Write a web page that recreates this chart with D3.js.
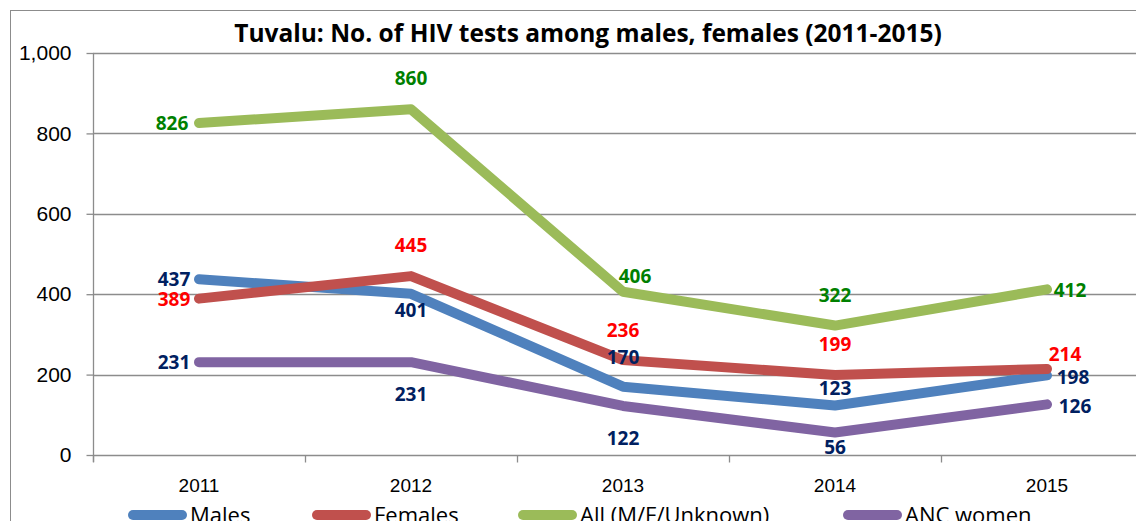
<!DOCTYPE html>
<html>
<head>
<meta charset="utf-8">
<script src="https://cdn.jsdelivr.net/npm/d3@7"></script>
<style>
  html, body { margin: 0; padding: 0; background: #fff; overflow: hidden; }
  svg { display: block; font-family: "Open Sans", "Noto Sans", sans-serif; }
</style>
</head>
<body>
<div id="chart"></div>
<script>
const years = ['2011', '2012', '2013', '2014', '2015'];
const males = [437, 401, 170, 123, 198];
const females = [389, 445, 236, 199, 214];
const allTests = [826, 860, 406, 322, 412];
const ancWomen = [231, 231, 122, 56, 126];
const yTicks = [0, 200, 400, 600, 800, 1000];
const seriesNames = ['Males', 'Females', 'All (M/F/Unknown)', 'ANC women'];

// label offsets from each point (label centre, px)
const labelOffsets = {
  'Males': [[-25, 0], [0, 16], [0, -30], [0, -18], [26, 2]],
  'Females': [[-25, 0], [0, -31], [0, -30], [0, -31], [18, -15]],
  'All (M/F/Unknown)': [[-27, 0], [0, -31], [12, -16], [0, -31], [23, 1]],
  'ANC women': [[-25, 0], [0, 32], [0, 32], [0, 15], [28, 2]]
};

const series = [
  { name: seriesNames[0], values: males, color: '#4F81BD', labelColor: '#002060' },
  { name: seriesNames[1], values: females, color: '#C0504D', labelColor: '#FF0000' },
  { name: seriesNames[2], values: allTests, color: '#9BBB59', labelColor: '#008000' },
  { name: seriesNames[3], values: ancWomen, color: '#8064A2', labelColor: '#002060' }
];

const width = 1136, height = 521;
const plot = { left: 93, right: 1153, top: 53, bottom: 455 };

const svg = d3.select('#chart').append('svg')
  .attr('width', width)
  .attr('height', height);

// outer chart border
svg.append('rect')
  .attr('x', 10.5).attr('y', 10.5)
  .attr('width', 1200).attr('height', 600)
  .attr('fill', 'none')
  .attr('stroke', '#8c8c8c')
  .attr('stroke-width', 1);

const x = d3.scaleBand().domain(years).range([plot.left, plot.right]).padding(0);
const xc = d => x(d) + x.bandwidth() / 2;
const y = d3.scaleLinear().domain([0, 1000]).range([plot.bottom, plot.top]);

// gridlines
svg.append('g')
  .selectAll('line')
  .data(yTicks.filter(d => d > 0))
  .join('line')
  .attr('x1', plot.left).attr('x2', width)
  .attr('y1', d => Math.round(y(d)) + 0.5).attr('y2', d => Math.round(y(d)) + 0.5)
  .attr('stroke', '#8c8c8c')
  .attr('stroke-width', 1.3);

// y axis
const yAxis = svg.append('g')
  .attr('transform', `translate(${plot.left + 0.5},0)`)
  .call(d3.axisLeft(y).tickValues(yTicks).tickSize(7).tickPadding(15).tickFormat(d3.format(',')));
yAxis.select('path').attr('d', `M0,${plot.top}V${plot.bottom + 7}`);
yAxis.selectAll('path, line').attr('stroke', '#8c8c8c').attr('stroke-width', 1.3);
yAxis.selectAll('text')
  .attr('font-size', 21)
  .attr('fill', '#000');

// x axis
const xAxis = svg.append('g')
  .attr('transform', `translate(0,${Math.round(plot.bottom) + 0.5})`)
  .call(d3.axisBottom(x).tickSize(0).tickPadding(23));
xAxis.select('path').attr('d', `M${plot.left},0H${width}`);
xAxis.select('path').attr('stroke', '#8c8c8c').attr('stroke-width', 1.3);
xAxis.selectAll('text')
  .attr('font-size', 19)
  .attr('fill', '#000');
xAxis.append('g')
  .selectAll('line')
  .data(years)
  .join('line')
  .attr('x1', d => x(d) + 0.5).attr('x2', d => x(d) + 0.5)
  .attr('y1', 0).attr('y2', 7)
  .attr('stroke', '#8c8c8c')
  .attr('stroke-width', 1.3);

// lines
const line = d3.line()
  .x((d, i) => xc(years[i]))
  .y(d => y(d));

svg.append('g')
  .selectAll('path')
  .data(series)
  .join('path')
  .attr('d', d => line(d.values))
  .attr('fill', 'none')
  .attr('stroke', d => d.color)
  .attr('stroke-width', 10)
  .attr('stroke-linecap', 'round')
  .attr('stroke-linejoin', 'round');

// data labels
series.forEach(s => {
  svg.append('g')
    .selectAll('text')
    .data(s.values)
    .join('text')
    .attr('x', (d, i) => xc(years[i]) + labelOffsets[s.name][i][0])
    .attr('y', (d, i) => y(d) + labelOffsets[s.name][i][1] + 7)
    .attr('text-anchor', 'middle')
    .attr('font-size', 19)
    .attr('font-weight', 'bold')
    .attr('fill', s.labelColor)
    .text(d => d);
});

// title
svg.append('text')
  .attr('x', 588)
  .attr('y', 42)
  .attr('text-anchor', 'middle')
  .attr('font-size', 24.5)
  .attr('font-weight', 'bold')
  .attr('fill', '#000')
  .text('Tuvalu: No. of HIV tests among males, females (2011-2015)');

// legend
const legendX = [128, 312, 518, 843];
const legend = svg.append('g');
series.forEach((s, i) => {
  const g = legend.append('g').attr('transform', `translate(${legendX[i]},515)`);
  g.append('line')
    .attr('x1', 5).attr('x2', 54)
    .attr('y1', 0).attr('y2', 0)
    .attr('stroke', s.color)
    .attr('stroke-width', 10)
    .attr('stroke-linecap', 'round');
  g.append('text')
    .attr('x', 62)
    .attr('y', 8)
    .attr('font-size', 22)
    .attr('fill', '#000')
    .text(s.name);
});
</script>
</body>
</html>
